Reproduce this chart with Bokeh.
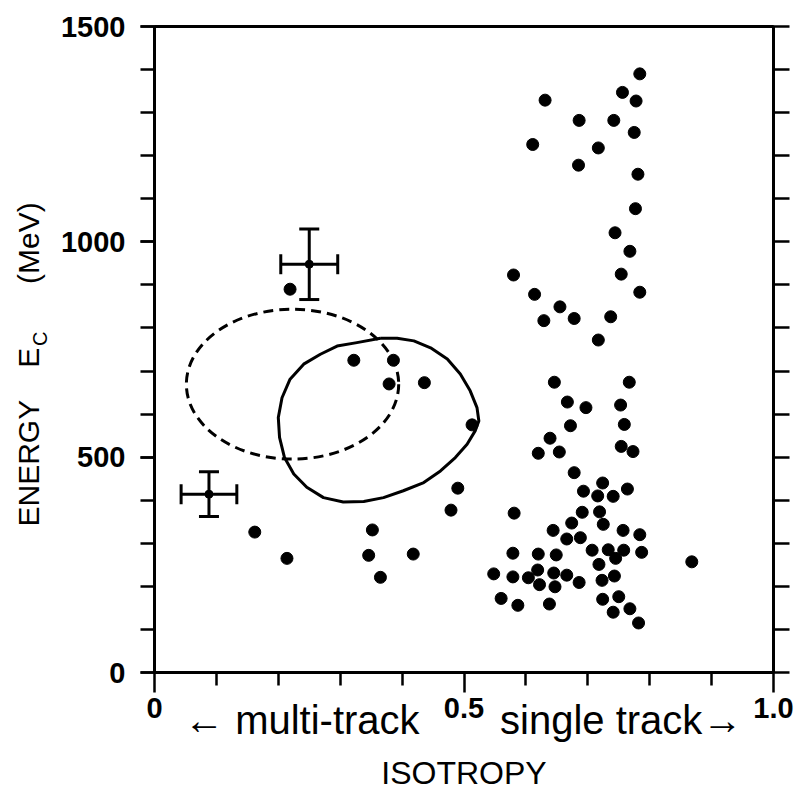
from bokeh.plotting import figure
from bokeh.models import (Range1d, LinearAxis, FixedTicker, Whisker,
                          ColumnDataSource, TeeHead)
from bokeh.embed import file_html
from bokeh.resources import INLINE

# ---------------- data ----------------
# single-track-like events (isotropy, energy MeV)
single_x = [0.784, 0.756, 0.778, 0.631, 0.686, 0.742, 0.775, 0.611, 0.717, 0.685,
            0.781, 0.777, 0.744, 0.768, 0.580, 0.754, 0.784, 0.614, 0.655, 0.629,
            0.678, 0.737, 0.717, 0.646, 0.767, 0.667, 0.697, 0.753, 0.672, 0.759,
            0.639, 0.620, 0.654, 0.754, 0.773, 0.678, 0.724, 0.693, 0.716, 0.741,
            0.764, 0.581, 0.691, 0.719, 0.674, 0.725, 0.644, 0.757, 0.784, 0.666,
            0.688, 0.579, 0.620, 0.649, 0.707, 0.733, 0.758, 0.787, 0.745, 0.718,
            0.548, 0.579, 0.604, 0.619, 0.622, 0.645, 0.647, 0.666, 0.686, 0.723,
            0.743, 0.560, 0.587, 0.638, 0.724, 0.750, 0.741, 0.768, 0.782, 0.868]
single_y = [1390, 1347, 1327, 1329, 1282, 1282, 1254, 1226, 1218, 1178,
            1157, 1077, 1021, 978, 923, 925, 883, 878, 849, 817,
            822, 826, 772, 674, 674, 628, 615, 621, 573, 576,
            544, 509, 512, 525, 513, 464, 440, 421, 410, 409,
            426, 370, 372, 373, 347, 344, 330, 330, 320, 310,
            313, 277, 275, 273, 284, 285, 284, 279, 265, 251,
            229, 222, 220, 238, 204, 231, 199, 226, 209, 214,
            224, 172, 156, 159, 170, 176, 140, 148, 115, 257]

# multi-track-like events
multi_x = [0.219, 0.322, 0.386, 0.379, 0.436, 0.513, 0.490, 0.479,
           0.162, 0.214, 0.352, 0.346, 0.365, 0.418]
multi_y = [890, 725, 725, 670, 673, 575, 428, 377,
           326, 265, 331, 272, 221, 275]

# reference points with error bars
err_x = [0.250, 0.088]
err_y = [948, 414]
err_dx = [0.046, 0.045]
err_dy = [82, 52]

# dashed contour (ellipse): centre, full width, full height
dash_cx = [0.223]
dash_cy = [669.5]
dash_w = [0.343]
dash_h = [348]

# solid contour, points
solid_x = [0.365, 0.392, 0.419, 0.446, 0.473, 0.494, 0.510, 0.521, 0.524, 0.518,
           0.505, 0.486, 0.462, 0.435, 0.402, 0.370, 0.338, 0.305, 0.273, 0.246,
           0.225, 0.210, 0.202, 0.200, 0.206, 0.219, 0.241, 0.268, 0.295, 0.327]
solid_y = [776, 776, 770, 754, 728, 693, 654, 615, 584, 561,
           530, 499, 468, 441, 422, 406, 397, 396, 406, 430,
           461, 499, 546, 592, 638, 681, 716, 739, 758, 766]

# ticks
x_ticks = [0.0, 0.5, 1.0]
x_tick_labels = ["0", "0.5", "1.0"]
x_minor = [0.1, 0.2, 0.3, 0.4, 0.6, 0.7, 0.8, 0.9]
y_ticks = [0, 500, 1000, 1500]
y_minor = [0, 100, 200, 300, 400, 500, 600, 700, 800, 900, 1000,
           1100, 1200, 1300, 1400, 1500]

# axis texts
x_side_texts = ["\u2190 multi-track", "single track\u2192"]
x_side_pos = [0.238, 0.754]
x_title = "ISOTROPY"
y_title_texts = ["ENERGY", "E", "(MeV)"]
y_title_pos = [486, 731, 997]
y_sub_text = ["C"]
y_sub_pos = [775]

# ---------------- figure ----------------
TICK_FONT = "Liberation Sans"
TEXT_FONT = "Liberation Sans"

p = figure(width=797, height=800, x_range=Range1d(0, 1), y_range=Range1d(0, 1500),
           output_backend="svg", toolbar_location=None,
           x_axis_type=None, y_axis_type=None,
           min_border_left=154, min_border_right=24, min_border_top=26,
           min_border_bottom=128)
p.outline_line_color = "black"
p.outline_line_width = 3
p.background_fill_color = "white"
p.border_fill_color = "white"


def bare(axis):
    axis.axis_line_color = None
    axis.major_tick_line_color = None
    axis.minor_tick_line_color = None
    axis.major_tick_out = 0
    axis.major_tick_in = 0
    axis.minor_tick_out = 0
    axis.minor_tick_in = 0
    axis.major_label_text_color = "black"


# bottom axis with ticks
xa = LinearAxis(ticker=FixedTicker(ticks=x_ticks, minor_ticks=x_minor),
                major_label_overrides={t: l for t, l in zip(x_ticks, x_tick_labels)})
xa.axis_line_width = 3
xa.major_tick_out = 20
xa.major_tick_in = 0
xa.minor_tick_out = 13
xa.minor_tick_in = 0
xa.major_tick_line_width = 2.5
xa.minor_tick_line_width = 2.5
xa.major_label_standoff = 5
xa.major_label_text_font = TICK_FONT
xa.major_label_text_font_size = "29px"
xa.major_label_text_font_style = "bold"
xa.major_label_text_color = "black"
p.add_layout(xa, "below")

# second bottom axis carrying the direction texts and the title
xb = LinearAxis(ticker=FixedTicker(ticks=x_side_pos, minor_ticks=[]),
                major_label_overrides={t: l for t, l in zip(x_side_pos, x_side_texts)})
bare(xb)
xb.major_label_standoff = -23
xb.major_label_text_font = TEXT_FONT
xb.major_label_text_font_size = "40px"
xb.axis_label = x_title
xb.axis_label_standoff = 10
xb.axis_label_text_font = TEXT_FONT
xb.axis_label_text_font_size = "32px"
xb.axis_label_text_font_style = "normal"
xb.axis_label_text_color = "black"
p.add_layout(xb, "below")

# left axis with ticks
ya = LinearAxis(ticker=FixedTicker(ticks=y_ticks, minor_ticks=y_minor))
ya.axis_line_width = 3
ya.major_tick_out = 14
ya.major_tick_in = 0
ya.minor_tick_out = 14
ya.minor_tick_in = 0
ya.major_tick_line_width = 2.5
ya.minor_tick_line_width = 2.5
ya.major_label_standoff = 15
ya.major_label_text_font = TICK_FONT
ya.major_label_text_font_size = "29px"
ya.major_label_text_font_style = "bold"
ya.major_label_text_color = "black"
p.add_layout(ya, "left")

# subscript of the y title
yc = LinearAxis(ticker=FixedTicker(ticks=y_sub_pos, minor_ticks=[]),
                major_label_overrides={t: l for t, l in zip(y_sub_pos, y_sub_text)})
bare(yc)
yc.major_label_orientation = "vertical"
yc.major_label_standoff = 6
yc.major_label_text_font = TEXT_FONT
yc.major_label_text_font_size = "20px"
p.add_layout(yc, "left")

# main y title pieces
ye = LinearAxis(ticker=FixedTicker(ticks=y_title_pos, minor_ticks=[]),
                major_label_overrides={t: l for t, l in zip(y_title_pos, y_title_texts)})
bare(ye)
ye.major_label_orientation = "vertical"
ye.major_label_standoff = -19
ye.major_label_text_font = TEXT_FONT
ye.major_label_text_font_size = "30px"
p.add_layout(ye, "left")

# right axis, ticks only
ra = LinearAxis(ticker=FixedTicker(ticks=[], minor_ticks=y_minor))
ra.axis_line_width = 3
ra.major_tick_out = 0
ra.major_tick_in = 0
ra.minor_tick_out = 16
ra.minor_tick_in = 0
ra.minor_tick_line_width = 2.5
ra.major_label_standoff = 0
p.add_layout(ra, "right")

# contours
p.ellipse(x=dash_cx, y=dash_cy, width=dash_w, height=dash_h,
          fill_color=None, line_color="black", line_width=3, line_dash="10 6")
p.line(solid_x + solid_x[:1], solid_y + solid_y[:1], line_color="black",
       line_width=3, line_join="round")

# events
p.scatter(single_x, single_y, size=12, color="black")
p.scatter(multi_x, multi_y, size=12, color="black")

# error-bar points
src = ColumnDataSource(dict(
    x=err_x, y=err_y,
    xlo=[a - b for a, b in zip(err_x, err_dx)], xhi=[a + b for a, b in zip(err_x, err_dx)],
    ylo=[a - b for a, b in zip(err_y, err_dy)], yhi=[a + b for a, b in zip(err_y, err_dy)]))
for dim, base, lo, hi in (("height", "x", "ylo", "yhi"), ("width", "y", "xlo", "xhi")):
    w = Whisker(source=src, base=base, lower=lo, upper=hi, dimension=dim,
                line_color="black", line_width=3,
                upper_head=TeeHead(size=20, line_width=3, line_color="black"),
                lower_head=TeeHead(size=20, line_width=3, line_color="black"))
    p.add_layout(w)
p.scatter("x", "y", source=src, size=8, color="black")

open("out.html", "w").write(file_html(p, INLINE))
